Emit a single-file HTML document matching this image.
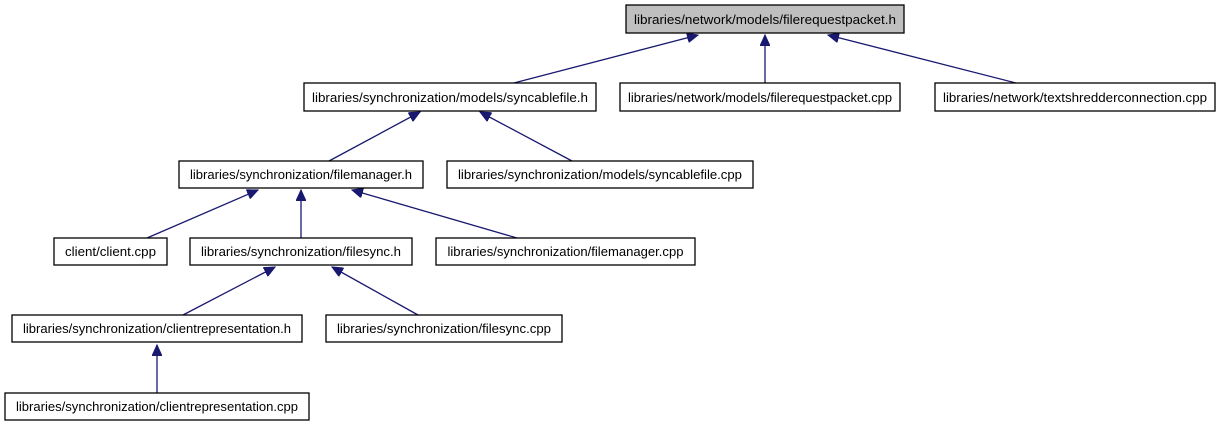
<!DOCTYPE html>
<html><head><meta charset="utf-8"><style>
html,body{margin:0;padding:0;background:#fff;}
svg{display:block;}
text{font-family:"Liberation Sans",Helvetica,Arial,sans-serif;font-size:13px;fill:#000;}
</style></head><body>
<svg width="1220" height="427" viewBox="0 0 1220 427" xmlns="http://www.w3.org/2000/svg">
<defs>
<marker id="a" markerWidth="12" markerHeight="10" refX="11" refY="5" orient="auto" markerUnits="userSpaceOnUse">
<path d="M0,0 L11,5 L0,10 Z" fill="#191970" stroke="#191970"/>
</marker>
</defs>
<g stroke="#191970" stroke-width="1.3" fill="none" marker-end="url(#a)">
<line x1="510" y1="84" x2="698" y2="35"/>
<line x1="765" y1="84" x2="765" y2="35"/>
<line x1="1020" y1="84" x2="828" y2="35"/>
<line x1="329" y1="161" x2="420" y2="112"/>
<line x1="572" y1="161" x2="480" y2="112"/>
<line x1="147" y1="238" x2="258" y2="190"/>
<line x1="301" y1="238" x2="301" y2="190"/>
<line x1="517" y1="238" x2="352" y2="190"/>
<line x1="183" y1="315" x2="275" y2="267"/>
<line x1="418" y1="315" x2="332" y2="267"/>
<line x1="157" y1="393" x2="157" y2="345"/>
</g>
<g stroke="#000" stroke-width="1.3">
<rect x="626" y="5" width="278" height="28" fill="#bfbfbf"/>
<rect x="304" y="83" width="292" height="28" fill="#fff"/>
<rect x="620" y="83" width="280" height="28" fill="#fff"/>
<rect x="935" y="83" width="280" height="28" fill="#fff"/>
<rect x="179" y="161" width="244" height="27" fill="#fff"/>
<rect x="447" y="161" width="306" height="27" fill="#fff"/>
<rect x="54" y="238" width="113" height="27" fill="#fff"/>
<rect x="190" y="238" width="222" height="27" fill="#fff"/>
<rect x="436" y="238" width="259" height="27" fill="#fff"/>
<rect x="12" y="315" width="290" height="27" fill="#fff"/>
<rect x="326" y="315" width="236" height="27" fill="#fff"/>
<rect x="5" y="393" width="304" height="27" fill="#fff"/>
</g>
<g text-anchor="middle">
<text x="765" y="24" textLength="262" lengthAdjust="spacingAndGlyphs">libraries/network/models/filerequestpacket.h</text>
<text x="450" y="102" textLength="276" lengthAdjust="spacingAndGlyphs">libraries/synchronization/models/syncablefile.h</text>
<text x="760" y="102" textLength="264" lengthAdjust="spacingAndGlyphs">libraries/network/models/filerequestpacket.cpp</text>
<text x="1075" y="102" textLength="264" lengthAdjust="spacingAndGlyphs">libraries/network/textshredderconnection.cpp</text>
<text x="301" y="179" textLength="222" lengthAdjust="spacingAndGlyphs">libraries/synchronization/filemanager.h</text>
<text x="600" y="179" textLength="284" lengthAdjust="spacingAndGlyphs">libraries/synchronization/models/syncablefile.cpp</text>
<text x="110.5" y="256" textLength="91" lengthAdjust="spacingAndGlyphs">client/client.cpp</text>
<text x="301" y="256" textLength="200" lengthAdjust="spacingAndGlyphs">libraries/synchronization/filesync.h</text>
<text x="565.5" y="256" textLength="236" lengthAdjust="spacingAndGlyphs">libraries/synchronization/filemanager.cpp</text>
<text x="157" y="333" textLength="268" lengthAdjust="spacingAndGlyphs">libraries/synchronization/clientrepresentation.h</text>
<text x="444" y="333" textLength="214" lengthAdjust="spacingAndGlyphs">libraries/synchronization/filesync.cpp</text>
<text x="157" y="411" textLength="282" lengthAdjust="spacingAndGlyphs">libraries/synchronization/clientrepresentation.cpp</text>
</g>
</svg>
</body></html>
